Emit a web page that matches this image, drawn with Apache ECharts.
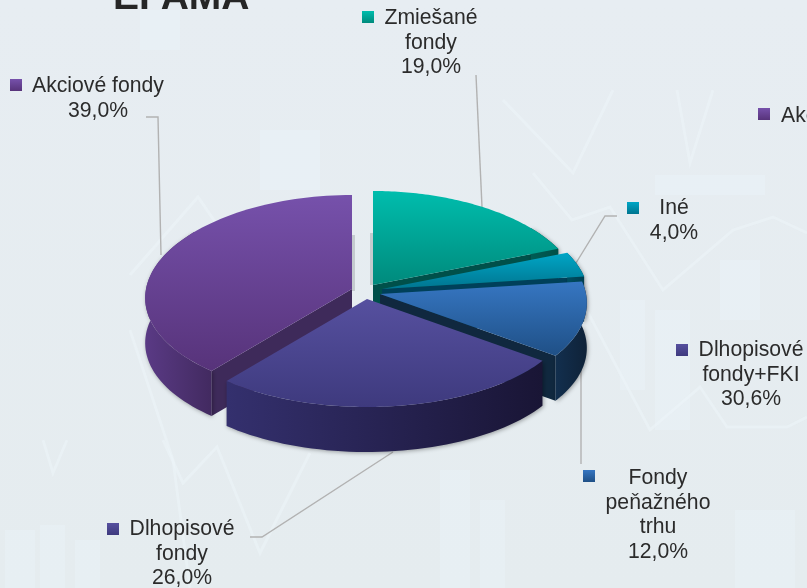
<!DOCTYPE html>
<html><head><meta charset="utf-8">
<style>html,body{margin:0;padding:0;overflow:hidden;background:#e6edf1}#c{width:807px;height:588px}</style>
<script src="https://cdn.jsdelivr.net/npm/echarts@6/dist/echarts.min.js"></script>
</head><body><div id="c"></div>
<script>
// Data
const categories = ['Zmiešané fondy','Iné','Fondy peňažného trhu','Dlhopisové fondy','Akciové fondy'];
const values = [19.0, 4.0, 12.0, 26.0, 39.0];
const valueLabels = ['19,0%','4,0%','12,0%','26,0%','39,0%'];
// Exploded pie style
const explodeX = [5,14,12,-1,-16];
const explodeY = [-6,-2,3,8,-2];
const paintOrder = [0,1,2,4,3];
const topColors = [['#00BDAD','#008A7C'],['#00A6C6','#007590'],['#3676C2','#1F5086'],['#56509F','#3E3A7E'],['#7651AB','#57337A']];
const wallColors = [['#005C54','#005048'],['#004E62','#003F50'],['#122F4E','#0F2238'],['#34306E','#191535'],['#5A3A85','#422A60']];
const sideColors = ['#00504A','#00405A','#10283F','#1E1A42','#3E2A5A'];
const CX = 368, CY = 291, RX = 206, RYA = 101, RYB = 7, PERSP = 0.09, DEPTH = 45;
// Label layout
const labels = [
  {lines:['Zmiešané','fondy',valueLabels[0]],x:431,y:18,sx:362,sy:11,c:0},
  {lines:['Iné',valueLabels[1]],x:674,y:208,sx:627,sy:202,c:1},
  {lines:['Fondy','peňažného','trhu',valueLabels[2]],x:658,y:478,sx:583,sy:470,c:2},
  {lines:['Dlhopisové','fondy',valueLabels[3]],x:182,y:529,sx:107,sy:523,c:3},
  {lines:['Akciové fondy',valueLabels[4]],x:98,y:86,sx:10,sy:79,c:4},
  {lines:['Dlhopisové','fondy+FKI','30,6%'],x:751,y:350,sx:676,sy:344,c:3}
];
const leaders = [
  [[476,75],[482,207]],
  [[146,117],[158,117],[161,255]],
  [[617,216],[605,216],[576,263]],
  [[581,362],[581,464]],
  [[250,537],[262,537],[393,452]]
];
const bgLines = [
  [[503,100],[573,173],[613,90]],[[677,90],[690,163],[713,90]],
  [[130,275],[198,197],[262,290],[300,250],[340,300]],
  [[533,173],[572,220],[610,207],[663,290],[733,230],[773,217],[807,233]],
  [[583,303],[650,430],[700,387],[727,427],[787,427],[807,417]],
  [[43,440],[53,473],[67,440]],[[163,440],[183,483],[217,447],[260,553],[310,453]],
  [[130,330],[173,460],[190,588]]
];
const bgBars = [[5,530,30,58],[40,525,25,63],[75,540,25,48],[440,470,30,118],[480,500,25,88],[735,510,60,78],[620,300,25,90],[655,310,35,120],[720,260,40,60],[655,175,110,20],[260,130,60,60],[140,10,40,40]];

const total = values.reduce((a,b)=>a+b,0);
const starts = []; let acc = 0;
values.forEach(v=>{starts.push(acc/total*Math.PI*2); acc+=v;});

function rim(i,t,d){
  const u=Math.sin(t), v=-Math.cos(t);
  return [CX+explodeX[i]+RX*u*(1+PERSP*v), CY+explodeY[i]+RYA*v+RYB*v*v+(d||0)];
}
function apex(i,d){return [CX+explodeX[i],CY+explodeY[i]+(d||0)];}
function lg(cs,hor){return new echarts.graphic.LinearGradient(0,0,hor?1:0,hor?0:1,[{offset:0,color:cs[0]},{offset:1,color:cs[1]}]);}

function renderItem(params,api){
  const i=api.value(1), val=api.value(0), a0=starts[i], a1=a0+val/total*Math.PI*2;
  const z=paintOrder.indexOf(i)*10, kids=[];
  const poly=(pts,fill,zz,shadow)=>kids.push({type:'polygon',z2:z+zz,shape:{points:pts},silent:true,
    style:Object.assign({fill:fill},shadow?{shadowBlur:4,shadowColor:'rgba(0,0,0,0.35)',shadowOffsetX:1,shadowOffsetY:1}:{})});
  if(Math.sin(a1)>0) poly([apex(i),rim(i,a1),rim(i,a1,DEPTH),apex(i,DEPTH)],sideColors[i],1);
  if(Math.sin(a0)<0) poly([apex(i),rim(i,a0),rim(i,a0,DEPTH),apex(i,DEPTH)],sideColors[i],1);
  const w0=Math.max(a0,Math.PI*0.3), w1=Math.min(a1,Math.PI*1.7);
  if(w1>w0){
    const up=[],dn=[];
    for(let k=0;k<=48;k++){const t=w0+(w1-w0)*k/48; up.push(rim(i,t)); dn.unshift(rim(i,t,DEPTH));}
    poly(up.concat(dn),lg(wallColors[i],true),2,true);
  }
  const pts=[apex(i)];
  for(let k=0;k<=72;k++) pts.push(rim(i,a0+(a1-a0)*k/72));
  poly(pts,lg(topColors[i]),3);
  return {type:'group',children:kids};
}

const graphics=[];
graphics.push({type:'rect',silent:true,z:0,shape:{x:0,y:0,width:807,height:588},style:{fill:new echarts.graphic.LinearGradient(0,0,0,1,[{offset:0,color:'#e7edf2'},{offset:1,color:'#e5ecef'}])}});
bgBars.forEach(b=>graphics.push({type:'rect',silent:true,z:0,shape:{x:b[0],y:b[1],width:b[2],height:b[3]},style:{fill:'rgba(235,246,252,0.35)'}}));
bgLines.forEach(l=>graphics.push({type:'polyline',silent:true,z:0,shape:{points:l},style:{fill:null,stroke:'rgba(238,246,249,0.5)',lineWidth:3}}));
[[352,235,3,56],[370,233,3,52]].forEach(r=>graphics.push({type:'rect',silent:true,z:1,shape:{x:r[0],y:r[1],width:r[2],height:r[3]},style:{fill:'rgba(120,125,130,0.3)'}}));
leaders.forEach(l=>graphics.push({type:'polyline',silent:true,z:1,shape:{points:l},style:{fill:null,stroke:'#b2b2b2',lineWidth:1.4}}));
const FONT='"Liberation Sans",Arial,sans-serif';
graphics.push({type:'text',silent:true,z:5,style:{text:'EFAMA',x:113,y:18,textAlign:'left',textVerticalAlign:'bottom',verticalAlign:'bottom',fill:'#262626',font:'bold 39px '+FONT}});
function sq(x,y,ci){graphics.push({type:'rect',silent:true,z:5,shape:{x:x,y:y,width:12,height:12},style:{fill:lg(topColors[ci])}});}
labels.forEach(L=>{
  sq(L.sx,L.sy,L.c);
  L.lines.forEach((t,k)=>graphics.push({type:'text',silent:true,z:5,style:{text:t,x:L.x,y:L.y+k*24.7,textAlign:'center',textVerticalAlign:'middle',verticalAlign:'middle',fill:'#2b2b2b',font:'21.2px '+FONT}}));
});
sq(758,108,4);
graphics.push({type:'text',silent:true,z:5,style:{text:'Akciové fondy',x:781,y:116,textAlign:'left',textVerticalAlign:'middle',verticalAlign:'middle',fill:'#2b2b2b',font:'21.2px '+FONT}});

const chart=echarts.init(document.getElementById('c'),null,{renderer:'canvas'});
chart.setOption({
  animation:false,
  backgroundColor:'transparent',
  graphic:{elements:graphics},
  series:[{type:'custom',coordinateSystem:'none',z:2,silent:true,renderItem:renderItem,
    data:values.map((v,i)=>({name:categories[i],value:[v,i]}))}]
});
</script></body></html>
